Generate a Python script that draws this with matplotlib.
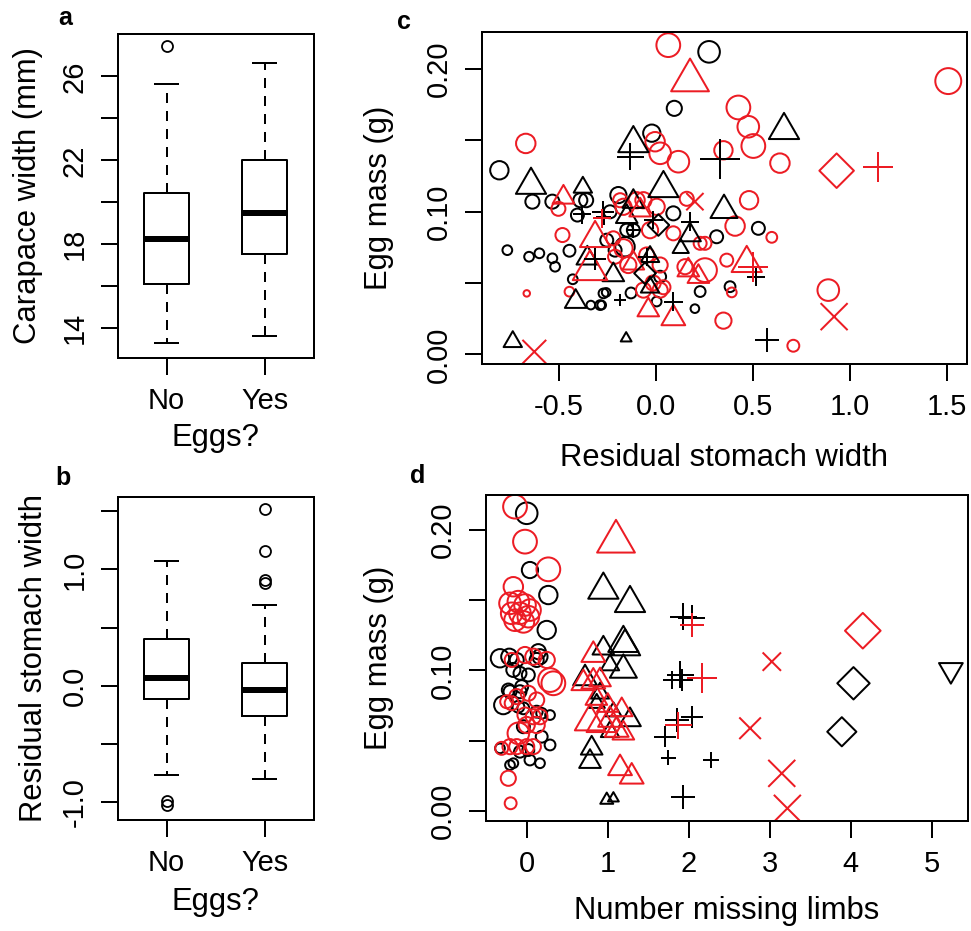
import matplotlib
matplotlib.use("Agg")
import matplotlib.pyplot as plt
from matplotlib.path import Path

plt.rcParams['font.family'] = ['Liberation Sans', 'DejaVu Sans']

# ---------------- data ----------------
egg_labels = ['No', 'Yes']

# panel a: carapace width boxplot summaries
cw_med = [18.24, 19.47]
cw_q1 = [16.12, 17.55]
cw_q3 = [20.42, 22.00]
cw_lo = [13.27, 13.63]
cw_hi = [25.62, 26.66]
cw_out = [[27.45], []]

# panel b: residual stomach width boxplot summaries
sw_med = [0.069, -0.037]
sw_q1 = [-0.117, -0.258]
sw_q3 = [0.400, 0.198]
sw_lo = [-0.768, -0.805]
sw_hi = [1.072, 0.694]
sw_out = [[-0.99, -1.025], [1.517, 1.161, 0.909, 0.880]]

# panel c: egg mass vs residual stomach width (s = symbol width, px)
c_circ_k_x = [-0.807, -0.637, -0.534, -0.390, -0.360, -0.405, -0.766, -0.654, -0.601, -0.534,
              -0.520, -0.446, -0.429, -0.336, -0.280, -0.257, -0.129, -0.022, 0.273, 0.094,
              -0.237, -0.194, -0.151, -0.117, -0.254, -0.211, -0.160, 0.089, 0.312, 0.381,
              0.227, 0.200, 0.003, -0.271, -0.288, 0.021, 0.527]
c_circ_k_y = [0.129, 0.107, 0.107, 0.108, 0.108, 0.0976, 0.073, 0.0684, 0.0708, 0.0673,
              0.0614, 0.0726, 0.0526, 0.0345, 0.0345, 0.0434, 0.043, 0.155, 0.212, 0.1724,
              0.0999, 0.1116, 0.087, 0.087, 0.080, 0.073, 0.0754, 0.0988, 0.0824, 0.0474,
              0.044, 0.032, 0.037, 0.0427, 0.0345, 0.0544, 0.0883]
c_circ_k_s = [17, 13, 13, 13, 13, 12, 9, 9, 9, 9,
              9, 11, 9, 8, 8, 8, 10, 16, 20, 14,
              12, 15, 12, 12, 12, 12, 18, 13, 12, 10,
              10, 8, 9, 9, 9, 11, 12]

c_circ_r_x = [-0.671, -0.503, -0.482, -0.666, -0.446, 0.063, 0.424, 0.475, 0.501, -0.005,
              0.021, 0.115, 0.638, 1.505, 0.887, 0.707, 0.347, 0.390, 0.364, 0.252,
              0.149, 0.596, 0.407, 0.479, 0.347, 0.089, 0.252, 0.227, -0.220, -0.168,
              -0.143, -0.065, -0.015, -0.211, -0.048, 0.021, 0.021, -0.168, -0.065, 0.003,
              0.158, -0.031, -0.185, -0.100, 0.038]
c_circ_r_y = [0.1478, 0.102, 0.0836, 0.0427, 0.0439, 0.2167, 0.173, 0.1595, 0.146, 0.149,
              0.1409, 0.135, 0.134, 0.1915, 0.045, 0.006, 0.0236, 0.0434, 0.066, 0.059,
              0.0614, 0.082, 0.0899, 0.108, 0.143, 0.0848, 0.0778, 0.0778, 0.0813, 0.0743,
              0.0626, 0.045, 0.050, 0.0684, 0.0696, 0.0626, 0.045, 0.1034, 0.108, 0.1034,
              0.109, 0.087, 0.108, 0.108, 0.047]
c_circ_r_s = [18, 13, 13, 6, 9, 22, 22, 20, 22, 18,
              20, 20, 18, 24, 20, 11, 15, 9, 12, 22,
              14, 10, 18, 17, 17, 13, 12, 12, 13, 17,
              15, 14, 14, 13, 14, 14, 14, 15, 15, 15,
              13, 15, 13, 15, 13]

c_tri_k_x = [-0.644, -0.377, -0.354, -0.220, -0.414, -0.738, -0.154, -0.117, 0.038, 0.350,
             0.659, 0.175, 0.127, -0.151, -0.117, -0.031, -0.031]
c_tri_k_y = [0.1186, 0.117, 0.0673, 0.0556, 0.0369, 0.0088, 0.0112, 0.1478, 0.1163, 0.101,
             0.157, 0.0836, 0.0743, 0.0964, 0.107, 0.047, 0.0684]
c_tri_k_s = [28, 17, 20, 20, 20, 17, 10, 28, 28, 25, 28, 20, 15, 20, 20, 17, 17]

c_tri_r_x = [-0.477, -0.314, -0.340, -0.040, 0.089, 0.175, 0.467, 0.166, 0.218, -0.082, -0.117]
c_tri_r_y = [0.110, 0.0813, 0.059, 0.031, 0.0252, 0.192, 0.0638, 0.059, 0.0544, 0.101, 0.0638]
c_tri_r_s = [20, 28, 32, 20, 22, 35, 28, 20, 20, 20, 20]

c_plus_k_x = [-0.383, -0.273, -0.314, -0.185, -0.134, 0.330, 0.175, 0.089, 0.570, 0.515,
              -0.014, -0.048, -0.270, -0.117]
c_plus_k_y = [0.098, 0.0997, 0.0666, 0.038, 0.1385, 0.137, 0.093, 0.037, 0.010, 0.0544,
              0.094, 0.0684, 0.096, 0.087]
c_plus_k_s = [17, 20, 20, 11, 25, 37, 17, 17, 22, 17, 17, 17, 14, 14]

c_plus_r_x = [-0.280, 1.145, 0.501]
c_plus_r_y = [0.0953, 0.1315, 0.0614]
c_plus_r_s = [17, 28, 28]

c_x_r_x = [-0.627, 0.917, 0.200]
c_x_r_y = [0.0018, 0.0264, 0.107]
c_x_r_s = [22, 25, 16]

c_dia_r_x = [0.930]
c_dia_r_y = [0.1287]
c_dia_r_s = [32]

c_dia_k_x = [0.012, -0.057]
c_dia_k_y = [0.0906, 0.0568]
c_dia_k_s = [20, 20]

# panel d: egg mass vs number of missing limbs (jittered)
d_circ_k_x = [0.000, 0.040, 0.267, 0.247, -0.330, -0.215, -0.123, -0.165, -0.083, 0.020,
              0.143, 0.164, 0.123, -0.206, -0.062, -0.083, -0.289, -0.103, -0.042, 0.123,
              0.185, 0.288, -0.041, 0.185, 0.288, -0.083, 0.020, -0.330, 0.040, 0.164,
              -0.206, -0.165, -0.227]
d_circ_k_y = [0.2119, 0.1715, 0.1537, 0.1288, 0.1087, 0.1098, 0.1075, 0.1004, 0.098, 0.0968,
              0.1134, 0.1098, 0.1075, 0.0849, 0.0885, 0.0849, 0.0754, 0.0742, 0.0731, 0.0707,
              0.0695, 0.0683, 0.060, 0.0529, 0.047, 0.0422, 0.0434, 0.0446, 0.0363, 0.034,
              0.0327, 0.034, 0.0861]
d_circ_k_s = [20, 15, 17, 17, 17, 15, 13, 13, 12, 12,
              14, 14, 13, 12, 12, 12, 17, 11, 11, 11,
              10, 9, 12, 11, 10, 11, 11, 9, 10, 9,
              9, 9, 12]

d_circ_r_x = [-0.144, -0.021, 0.267, -0.165, -0.206, -0.103, -0.021, -0.185, -0.083, 0.020,
              -0.144, -0.041, 0.041, -0.021, 0.082, 0.247, 0.288, 0.329, -0.185, -0.123,
              0.020, 0.123, -0.185, -0.247, -0.021, 0.082, 0.164, 0.000, 0.123, -0.103,
              -0.309, -0.206, -0.123, 0.082, 0.000, -0.227, -0.198]
d_circ_r_y = [0.2166, 0.1917, 0.172, 0.1596, 0.1478, 0.149, 0.1466, 0.1407, 0.1407, 0.1383,
              0.1358, 0.1346, 0.143, 0.111, 0.1098, 0.1075, 0.0932, 0.0909, 0.1075, 0.0814,
              0.0838, 0.079, 0.0767, 0.0778, 0.0683, 0.0671, 0.0671, 0.0612, 0.0612, 0.0553,
              0.0446, 0.0458, 0.0458, 0.0458, 0.0458, 0.0233, 0.0055]
d_circ_r_s = [22, 22, 22, 18, 20, 20, 20, 20, 20, 20,
              20, 20, 20, 15, 15, 15, 22, 22, 13, 14,
              14, 14, 13, 12, 14, 14, 14, 15, 15, 20,
              12, 14, 14, 14, 14, 14, 11]

d_tri_k_x = [0.946, 1.275, 1.193, 1.214, 0.946, 1.193, 1.028, 0.720, 0.905, 0.864,
             1.028, 1.275, 1.070, 0.802, 0.781, 0.988, 1.070]
d_tri_k_y = [0.1573, 0.1478, 0.1194, 0.117, 0.1158, 0.1004, 0.1039, 0.0944, 0.0838, 0.0767,
             0.0564, 0.0648, 0.0707, 0.0446, 0.0351, 0.0078, 0.009]
d_tri_k_s = [28, 28, 28, 28, 20, 25, 17, 22, 17, 15, 17, 20, 15, 20, 20, 12, 10]

d_tri_r_x = [1.102, 0.822, 0.699, 0.822, 0.905, 0.781, 0.926, 1.028, 1.111, 1.193,
             1.152, 1.296, 1.173, 0.860, 1.000]
d_tri_r_y = [0.1917, 0.111, 0.0909, 0.092, 0.0932, 0.0636, 0.0624, 0.0648, 0.0577, 0.0553,
             0.0304, 0.0244, 0.0719, 0.080, 0.075]
d_tri_r_s = [35, 22, 22, 22, 20, 28, 28, 22, 22, 20, 22, 22, 20, 20, 20]

d_plus_k_x = [1.933, 2.037, 1.790, 1.893, 1.913, 1.852, 2.037, 1.707, 1.748, 2.275, 1.926]
d_plus_k_y = [0.1383, 0.1371, 0.0932, 0.0968, 0.0932, 0.0648, 0.0671, 0.0529, 0.0379, 0.0363, 0.0098]
d_plus_k_s = [25, 25, 17, 25, 20, 22, 20, 20, 14, 14, 22]

d_plus_r_x = [2.037, 2.160, 1.872]
d_plus_r_y = [0.1324, 0.0944, 0.0612]
d_plus_r_s = [22, 28, 25]

d_x_r_x = [3.025, 2.757, 3.148, 3.217]
d_x_r_y = [0.1063, 0.0589, 0.0268, 0.0019]
d_x_r_s = [17, 20, 25, 25]

d_dia_r_x = [4.148]
d_dia_r_y = [0.1283]
d_dia_r_s = [33]

d_dia_k_x = [4.033, 3.889]
d_dia_k_y = [0.0909, 0.0564]
d_dia_k_s = [30, 27]

d_dtri_k_x = [5.235]
d_dtri_k_y = [0.1004]
d_dtri_k_s = [22]

RED = '#ec1c24'
BLK = 'black'

# ---------------- markers (R-like shapes) ----------------
tri_up = Path([(0, 1.555), (1.347, -0.778), (-1.347, -0.778), (0, 0)],
              [Path.MOVETO, Path.LINETO, Path.LINETO, Path.CLOSEPOLY])
tri_dn = Path([(0, -1.555), (1.347, 0.778), (-1.347, 0.778), (0, 0)],
              [Path.MOVETO, Path.LINETO, Path.LINETO, Path.CLOSEPOLY])
diamond = Path([(0, 1), (1, 0), (0, -1), (-1, 0), (0, 0)],
               [Path.MOVETO, Path.LINETO, Path.LINETO, Path.LINETO, Path.CLOSEPOLY])

# marker, width->markersize factor, is line marker
shapes = {
    'circle': ('o', 1.0, False),
    'tri': (tri_up, 1 / 0.866, False),
    'dtri': (tri_dn, 1 / 0.866, False),
    'plus': ('+', 1.0, True),
    'cross': ('x', 1.0, True),
    'diamond': (diamond, 1.0, False),
}
SIZE_SCALE = 1.08
MLW = 2.0

W, H = 971, 931
fig = plt.figure(figsize=(W / 72, H / 72), dpi=72)


def add_ax(left, top, right, bottom):
    return fig.add_axes([left / W, 1 - bottom / H, (right - left) / W, (bottom - top) / H])


def style(ax):
    for sp in ax.spines.values():
        sp.set_linewidth(2)
    ax.tick_params(direction='out', length=17, width=2, labelsize=29, pad=12)


def pts(ax, xs, ys, ws, kind, color):
    m, f, line = shapes[kind]
    s = [(w * f * SIZE_SCALE) ** 2 for w in ws]
    if line:
        ax.scatter(xs, ys, s=s, marker=m, c=color, linewidths=MLW)
    else:
        ax.scatter(xs, ys, s=s, marker=m, facecolors='none', edgecolors=color, linewidths=MLW)


def boxes(ax, med, q1, q3, lo, hi, out):
    stats = [dict(med=med[i], q1=q1[i], q3=q3[i], whislo=lo[i], whishi=hi[i], fliers=out[i])
             for i in range(2)]
    ax.bxp(stats, positions=[1, 2], widths=0.455, capwidths=0.23,
           boxprops=dict(color='black', linewidth=2),
           medianprops=dict(color='black', linewidth=6, solid_capstyle='butt'),
           whiskerprops=dict(color='black', linewidth=2, linestyle=(0, (5, 4))),
           capprops=dict(color='black', linewidth=2),
           flierprops=dict(marker='o', markerfacecolor='none', markeredgecolor='black',
                           markersize=11, markeredgewidth=1.8))
    ax.set_xlim(0.5, 2.5)
    ax.set_xticks([1, 2], egg_labels)


# ---- a ----
ax_a = add_ax(117.5, 33.5, 313.5, 358)
boxes(ax_a, cw_med, cw_q1, cw_q3, cw_lo, cw_hi, cw_out)
ax_a.set_ylim(12.57, 28.05)
ax_a.set_yticks([14, 16, 18, 20, 22, 24, 26], ['14', '', '18', '', '22', '', '26'],
                rotation=90, va='center')
style(ax_a)
ax_a.set_xlabel('Eggs?', fontsize=31, va='center')
ax_a.xaxis.set_label_coords(0.5, -0.245)
ax_a.set_ylabel('Carapace width (mm)', fontsize=31, va='center')
ax_a.yaxis.set_label_coords(-0.459, 0.5)

# ---- b ----
ax_b = add_ax(117.5, 496.7, 313.5, 820)
boxes(ax_b, sw_med, sw_q1, sw_q3, sw_lo, sw_hi, sw_out)
ax_b.set_ylim(-1.155, 1.625)
ax_b.set_yticks([-1, -0.5, 0, 0.5, 1, 1.5], ['-1.0', '', '0.0', '', '1.0', ''],
                rotation=90, va='center')
style(ax_b)
ax_b.set_xlabel('Eggs?', fontsize=31, va='center')
ax_b.xaxis.set_label_coords(0.5, -0.255)
ax_b.set_ylabel('Residual stomach width', fontsize=31, va='center')
ax_b.yaxis.set_label_coords(-0.425, 0.5)

# ---- c ----
ax_c = add_ax(481.7, 32.3, 967.3, 364.3)
pts(ax_c, c_circ_k_x, c_circ_k_y, c_circ_k_s, 'circle', BLK)
pts(ax_c, c_circ_r_x, c_circ_r_y, c_circ_r_s, 'circle', RED)
pts(ax_c, c_tri_k_x, c_tri_k_y, c_tri_k_s, 'tri', BLK)
pts(ax_c, c_tri_r_x, c_tri_r_y, c_tri_r_s, 'tri', RED)
pts(ax_c, c_plus_k_x, c_plus_k_y, c_plus_k_s, 'plus', BLK)
pts(ax_c, c_plus_r_x, c_plus_r_y, c_plus_r_s, 'plus', RED)
pts(ax_c, c_x_r_x, c_x_r_y, c_x_r_s, 'cross', RED)
pts(ax_c, c_dia_r_x, c_dia_r_y, c_dia_r_s, 'diamond', RED)
pts(ax_c, c_dia_k_x, c_dia_k_y, c_dia_k_s, 'diamond', BLK)
ax_c.set_xlim(-0.898, 1.603)
ax_c.set_ylim(-0.007, 0.2257)
ax_c.set_xticks([-0.5, 0, 0.5, 1, 1.5], ['-0.5', '0.0', '0.5', '1.0', '1.5'])
ax_c.set_yticks([0, 0.05, 0.1, 0.15, 0.2], ['0.00', '', '0.10', '', '0.20'],
                rotation=90, va='center')
style(ax_c)
ax_c.set_xlabel('Residual stomach width', fontsize=31, va='center')
ax_c.xaxis.set_label_coords(0.5, -0.281)
ax_c.set_ylabel('Egg mass (g)', fontsize=31, va='center')
ax_c.yaxis.set_label_coords(-0.211, 0.5)

# ---- d ----
ax_d = add_ax(485.7, 495, 968.3, 820.7)
pts(ax_d, d_circ_k_x, d_circ_k_y, d_circ_k_s, 'circle', BLK)
pts(ax_d, d_circ_r_x, d_circ_r_y, d_circ_r_s, 'circle', RED)
pts(ax_d, d_tri_k_x, d_tri_k_y, d_tri_k_s, 'tri', BLK)
pts(ax_d, d_tri_r_x, d_tri_r_y, d_tri_r_s, 'tri', RED)
pts(ax_d, d_plus_k_x, d_plus_k_y, d_plus_k_s, 'plus', BLK)
pts(ax_d, d_plus_r_x, d_plus_r_y, d_plus_r_s, 'plus', RED)
pts(ax_d, d_x_r_x, d_x_r_y, d_x_r_s, 'cross', RED)
pts(ax_d, d_dia_r_x, d_dia_r_y, d_dia_r_s, 'diamond', RED)
pts(ax_d, d_dia_k_x, d_dia_k_y, d_dia_k_s, 'diamond', BLK)
pts(ax_d, d_dtri_k_x, d_dtri_k_y, d_dtri_k_s, 'dtri', BLK)
ax_d.set_xlim(-0.506, 5.45)
ax_d.set_ylim(-0.0069, 0.2249)
ax_d.set_xticks([0, 1, 2, 3, 4, 5], ['0', '1', '2', '3', '4', '5'])
ax_d.set_yticks([0, 0.05, 0.1, 0.15, 0.2], ['0.00', '', '0.10', '', '0.20'],
                rotation=90, va='center')
style(ax_d)
ax_d.set_xlabel('Number missing limbs', fontsize=31, va='center')
ax_d.xaxis.set_label_coords(0.5, -0.277)
ax_d.set_ylabel('Egg mass (g)', fontsize=31, va='center')
ax_d.yaxis.set_label_coords(-0.221, 0.5)

# panel letters
for lx, ly, letter in [(58, 25, 'a'), (55, 485, 'b'), (397, 29, 'c'), (410, 483, 'd')]:
    fig.text(lx / W, 1 - ly / H, letter, fontsize=25, fontweight='bold',
             ha='left', va='baseline')

fig.savefig('out.png', dpi=72, facecolor='white')
